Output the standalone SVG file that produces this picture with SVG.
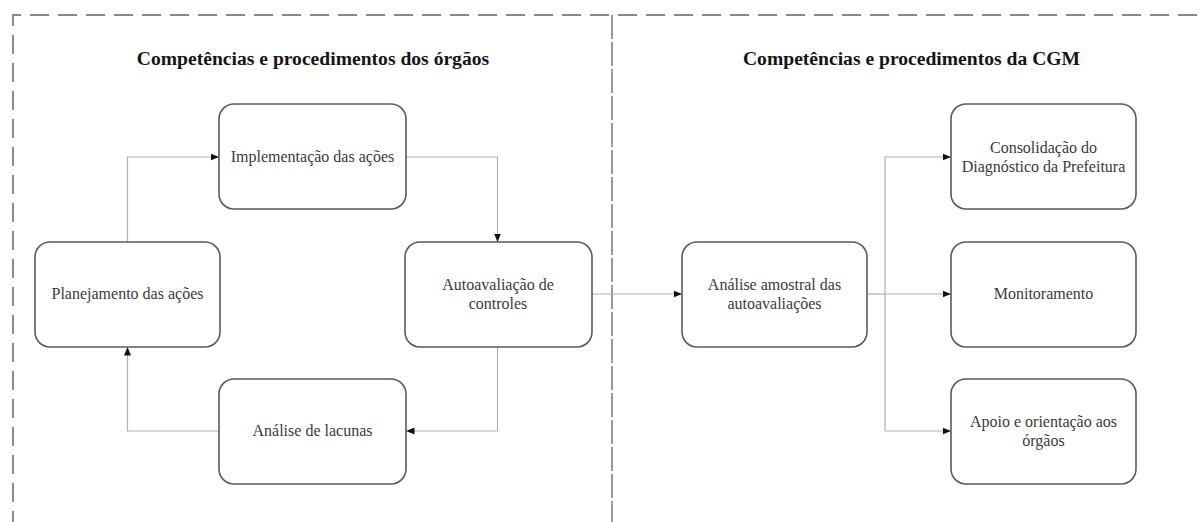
<svg xmlns="http://www.w3.org/2000/svg" width="1201" height="522" viewBox="0 0 1201 522">
<style>
.frame{fill:none;stroke:#8a8a8a;stroke-width:2;stroke-dasharray:19 9}
.divider{fill:none;stroke:#9a9a9a;stroke-width:2;stroke-dasharray:24 3}
.title{font-family:"Liberation Serif","Times New Roman",serif;font-weight:bold;font-size:19.6px;fill:#151515;text-anchor:middle}
.box{fill:#fff;stroke:#5a5a5a;stroke-width:1.6}
.lbl{font-family:"Liberation Serif","Times New Roman",serif;font-size:16px;fill:#3a3a3a;text-anchor:middle}
.conn{fill:none;stroke:#b0b0b0;stroke-width:1.2}
</style>
<defs>
<marker id="ah" markerUnits="userSpaceOnUse" markerWidth="9" markerHeight="8" refX="8.5" refY="4" orient="auto">
<path d="M0,0.5 L8.5,4 L0,7.5 z" fill="#111"/>
</marker>
</defs>
<rect width="1201" height="522" fill="#fff"/>
<g id="frame">
<path class="frame" d="M13,530 V15 H1215"/>
<path class="divider" d="M612,15 V530"/>
<text class="title" x="313" y="65">Competências e procedimentos dos órgãos</text>
<text class="title" x="911.5" y="65">Competências e procedimentos da CGM</text>
</g>
<g id="connectors">
<path class="conn" d="M127.5,242 V157 H219" marker-end="url(#ah)"/>
<path class="conn" d="M406,157 H497.5 V242" marker-end="url(#ah)"/>
<path class="conn" d="M497.5,347 V431 H406" marker-end="url(#ah)"/>
<path class="conn" d="M219,431 H127.5 V347" marker-end="url(#ah)"/>
<path class="conn" d="M592,294 H682" marker-end="url(#ah)"/>
<path class="conn" d="M867,294 H885"/>
<path class="conn" d="M885,157 V431"/>
<path class="conn" d="M885,157 H951" marker-end="url(#ah)"/>
<path class="conn" d="M885,294 H951" marker-end="url(#ah)"/>
<path class="conn" d="M885,431 H951" marker-end="url(#ah)"/>
</g>
<g id="planejamento">
<rect class="box" x="35" y="242" width="185" height="105" rx="15"/>
<text class="lbl" x="127.5" y="299">Planejamento das ações</text>
</g>
<g id="implementacao">
<rect class="box" x="219" y="104" width="187" height="105" rx="15"/>
<text class="lbl" x="312.5" y="162">Implementação das ações</text>
</g>
<g id="autoavaliacao">
<rect class="box" x="405" y="242" width="187" height="105" rx="15"/>
<text class="lbl" x="498" y="290">Autoavaliação de</text>
<text class="lbl" x="498" y="309">controles</text>
</g>
<g id="lacunas">
<rect class="box" x="219" y="379" width="187" height="105" rx="15"/>
<text class="lbl" x="312.5" y="436">Análise de lacunas</text>
</g>
<g id="amostral">
<rect class="box" x="682" y="242" width="185" height="105" rx="15"/>
<text class="lbl" x="774.5" y="290">Análise amostral das</text>
<text class="lbl" x="774.5" y="309">autoavaliações</text>
</g>
<g id="consolidacao">
<rect class="box" x="951" y="104" width="185" height="105" rx="15"/>
<text class="lbl" x="1043.5" y="153">Consolidação do</text>
<text class="lbl" x="1043.5" y="172">Diagnóstico da Prefeitura</text>
</g>
<g id="monitoramento">
<rect class="box" x="951" y="242" width="185" height="105" rx="15"/>
<text class="lbl" x="1043.5" y="299">Monitoramento</text>
</g>
<g id="apoio">
<rect class="box" x="951" y="379" width="185" height="105" rx="15"/>
<text class="lbl" x="1043.5" y="427">Apoio e orientação aos</text>
<text class="lbl" x="1043.5" y="446">órgãos</text>
</g>
</svg>
